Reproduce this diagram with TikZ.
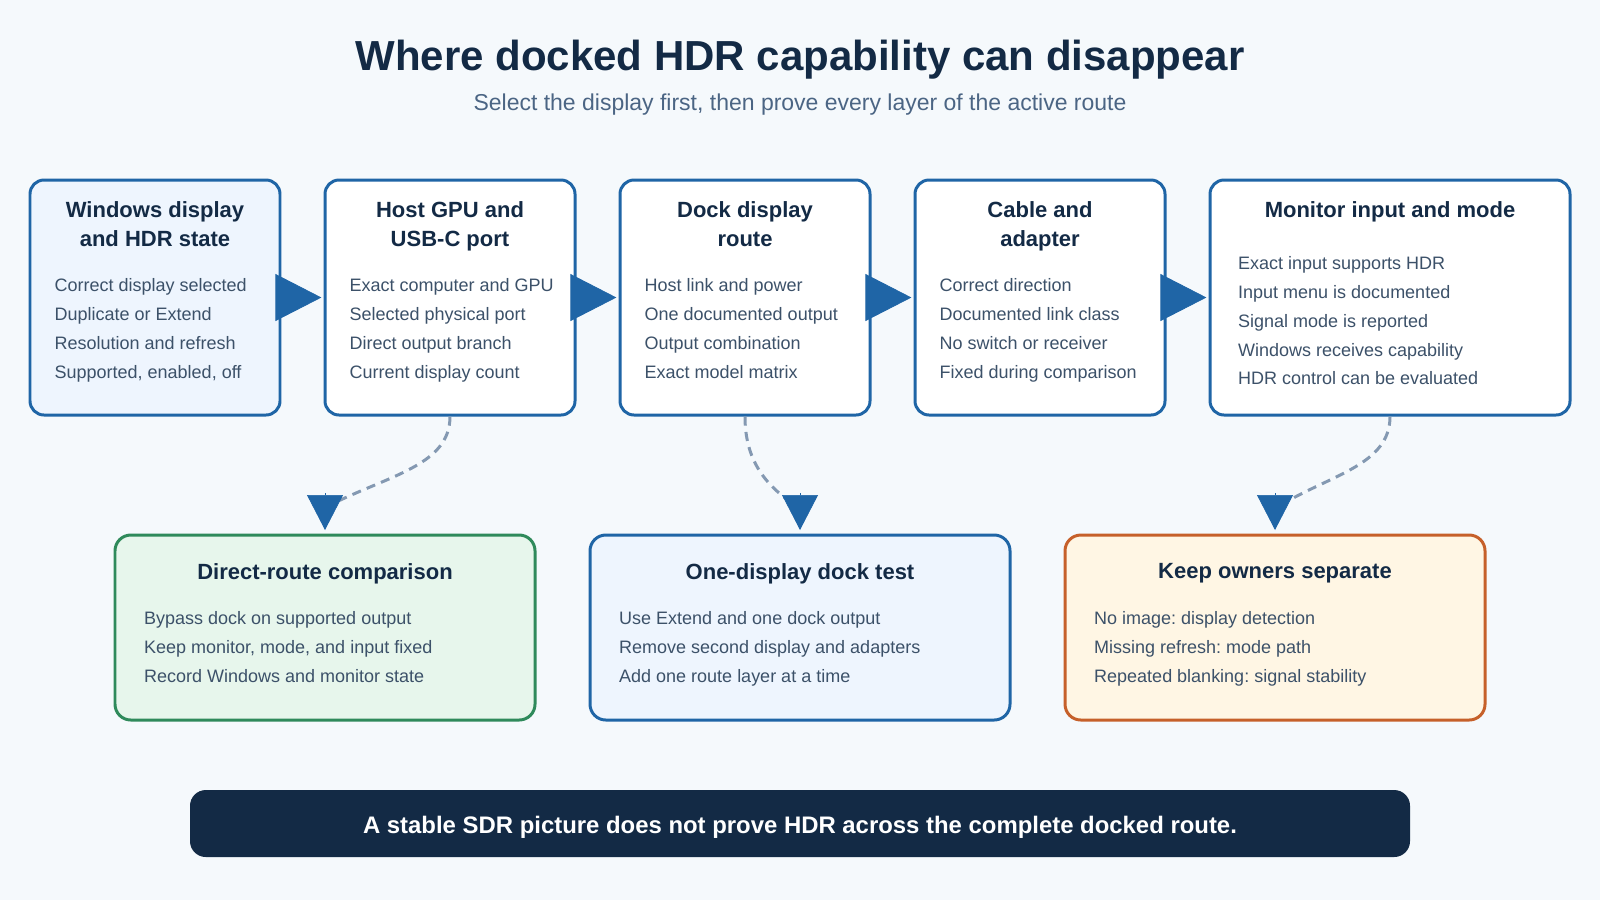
\documentclass[tikz,border=0pt]{standalone}
\usepackage{fontspec}
\setmainfont{Liberation Sans}
\frenchspacing
\usetikzlibrary{arrows.meta,positioning,calc}
\definecolor{paper}{HTML}{F5F9FC}
\definecolor{navy}{HTML}{132A45}
\definecolor{slate}{HTML}{3C5169}
\definecolor{subtle}{HTML}{4B6584}
\definecolor{route}{HTML}{1F65A6}
\definecolor{routefill}{HTML}{EEF5FE}
\definecolor{okgreen}{HTML}{2F8A5B}
\definecolor{okfill}{HTML}{E7F6EC}
\definecolor{owner}{HTML}{C6602A}
\definecolor{ownerfill}{HTML}{FFF6E4}
\definecolor{dashc}{HTML}{8499B2}
\tikzset{
  layer/.style={rounded corners=4pt,draw=route,fill=#1,line width=0.85pt,
    minimum width=2.5cm,minimum height=2.35cm,inner sep=0pt},
  layer/.default=white,
  check/.style 2 args={rounded corners=4.5pt,draw=#1,fill=#2,line width=0.85pt,
    minimum width=4.2cm,minimum height=1.85cm,inner sep=0pt},
  ttl/.style={font=\fontsize{6.26}{8.25}\selectfont\bfseries,text=navy,align=center,
    inner sep=0pt,anchor=north},
  lst/.style={font=\fontsize{5.12}{8.18}\selectfont,text=slate,align=left,
    inner sep=0pt,anchor=north west},
  flow/.style={-{Triangle[length=4.6mm,width=4.7mm]},line width=0.2pt,draw=route,
    shorten >=0.6pt},
  drop/.style={-{Triangle[length=3.5mm,width=3.6mm]},line width=0.2pt,draw=route,
    shorten >=1pt},
  lead/.style={draw=dashc,line width=0.85pt,dash pattern=on 2.6pt off 1.8pt},
}

\begin{document}
\begin{tikzpicture}[font=\fontsize{5.12}{8.18}\selectfont]
        \fill[paper] (0,0) rectangle (16,-9);

        \node[font=\fontsize{11.95}{14}\selectfont\bfseries,text=navy] (head) at (8,-0.60)
          {Where docked HDR capability can disappear};
        \node[font=\fontsize{6.54}{8}\selectfont,text=subtle] (sub) at (8,-1.05)
          {Select the display first, then prove every layer of the active route};

        % the route, layer by layer
        \node[layer=routefill] (win) at (1.55,-2.975) {};
        \node[layer] (gpu)   at (4.50,-2.975) {};
        \node[layer] (dock)  at (7.45,-2.975) {};
        \node[layer] (cable) at (10.40,-2.975) {};
        \node[layer,minimum width=3.6cm] (mon) at (13.90,-2.975) {};

        \node[ttl] (wint)   at ($(win.north)+(0,-0.22)$)   {Windows display\\and HDR state};
        \node[ttl] (gput)   at ($(gpu.north)+(0,-0.22)$)   {Host GPU and\\USB-C port};
        \node[ttl] (dockt)  at ($(dock.north)+(0,-0.22)$)  {Dock display\\route};
        \node[ttl] (cablet) at ($(cable.north)+(0,-0.22)$) {Cable and\\adapter};
        \node[ttl] (mont)   at ($(mon.north)+(0,-0.22)$)   {Monitor input and mode};

        \node[lst] (winl) at ($(win.north west)+(0.255,-0.995)$)
          {Correct display selected\\Duplicate or Extend\\Resolution and refresh\\Supported, enabled, off};
        \node[lst] (gpul) at ($(gpu.north west)+(0.255,-0.995)$)
          {Exact computer and GPU\\Selected physical port\\Direct output branch\\Current display count};
        \node[lst] (dockl) at ($(dock.north west)+(0.255,-0.995)$)
          {Host link and power\\One documented output\\Output combination\\Exact model matrix};
        \node[lst] (cablel) at ($(cable.north west)+(0.255,-0.995)$)
          {Correct direction\\Documented link class\\No switch or receiver\\Fixed during comparison};
        \node[lst] (monl) at ($(mon.north west)+(0.29,-0.775)$)
          {Exact input supports HDR\\Input menu is documented\\Signal mode is reported\\Windows receives capability\\HDR control can be evaluated};

        \draw[flow] (win) -- (gpu);
        \draw[flow] (gpu) -- (dock);
        \draw[flow] (dock) -- (cable);
        \draw[flow] (cable) -- (mon);

        % checks below
        \node[check={okgreen}{okfill}]    (direct) at (3.25,-6.275) {};
        \node[check={route}{routefill}]   (single) at (8.00,-6.275) {};
        \node[check={owner}{ownerfill}]   (owners) at (12.75,-6.275) {};

        \node[ttl] (directt) at ($(direct.north)+(0,-0.29)$) {Direct-route comparison};
        \node[ttl] (singlet) at ($(single.north)+(0,-0.29)$) {One-display dock test};
        \node[ttl] (ownerst) at ($(owners.north)+(0,-0.29)$) {Keep owners separate};

        \node[lst] (directl) at ($(direct.north west)+(0.30,-0.775)$)
          {Bypass dock on supported output\\Keep monitor, mode, and input fixed\\Record Windows and monitor state};
        \node[lst] (singlel) at ($(single.north west)+(0.30,-0.775)$)
          {Use Extend and one dock output\\Remove second display and adapters\\Add one route layer at a time};
        \node[lst] (ownersl) at ($(owners.north west)+(0.30,-0.775)$)
          {No image: display detection\\Missing refresh: mode path\\Repeated blanking: signal stability};

        \coordinate (d1) at (3.30,-5.05);  \coordinate (t1) at (3.25,-4.93);
        \coordinate (d2) at (7.95,-5.05);  \coordinate (t2) at (8.00,-4.93);
        \coordinate (d3) at (12.81,-5.05); \coordinate (t3) at (12.75,-4.93);
        \draw[lead] (gpu.south) .. controls (4.50,-4.65) and (3.90,-4.75) .. (d1);
        \draw[lead] (dock.south) .. controls (7.45,-4.60) and (7.65,-4.85) .. (d2);
        \draw[lead] (mon.south) .. controls (13.90,-4.65) and (13.30,-4.75) .. (d3);
        \draw[drop] (t1) -- (direct.north);
        \draw[drop] (t2) -- (single.north);
        \draw[drop] (t3) -- (owners.north);

        \node[fill=navy,rounded corners=4.5pt,minimum width=12.2cm,minimum height=0.67cm]
          (note) at (8,-8.235) {};
        \node[text=white,font=\fontsize{6.8}{8}\selectfont\bfseries] (notet)
          at ($(note.center)+(0,-0.04)$)
          {A stable SDR picture does not prove HDR across the complete docked route.};
      \end{tikzpicture}
\end{document}
